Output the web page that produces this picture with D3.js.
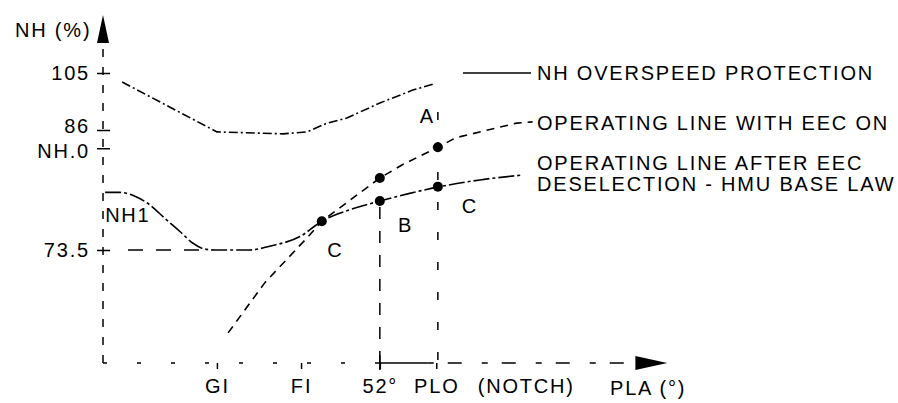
<!DOCTYPE html>
<html>
<head>
    <script src="https://d3js.org/d3.v7.min.js"></script>
    <style>
        body { margin: 0; background: #fff; }
        svg text {
            font-family: "Liberation Sans", Arial, Helvetica, sans-serif;
            font-size: 20px;
            letter-spacing: 1.8px;
            fill: #000;
        }
        .curve { fill: none; stroke: #000; stroke-width: 1.6; }
    </style>
</head>
<body>
<div id="chart"></div>
<script>
    // PLA ticks (deg) and NH ticks (%)
    const xTicks = [21.4, 37.2, 52, 62.6];
    const xTickLabels = ["GI", "FI", "52°", "PLO"];
    const NH0 = 84.1;
    const yTicks = [105, 86, NH0, 73.5];
    const yTickLabels = ["105", "86", "NH.0", "73.5"];

    // NH overspeed protection
    const overspeedX = [3.6, 21.4, 33.8, 38.3, 42.1, 45.8, 52, 58.2, 62];
    const overspeedY = [102, 85.8, 85.6, 85.8, 88.3, 90, 95, 99.3, 101.3];

    // operating line with EEC on
    const eecX = [23.5, 30.4, 38.3, 41.1, 52, 56.3, 62.9, 66.3, 77.7, 80.7];
    const eecY = [63.6, 69.6, 74.75, 76.5, 81.0, 82.4, 84.2, 85.2, 88.3, 88.7];

    // operating line after EEC deselection (HMU base law)
    const hmuX = [0.4, 3.2, 6, 8.8, 11.6, 14.5, 16.9, 19.1, 21, 27.6, 31.3, 37, 41.1, 46.4, 52, 57.6, 63.3, 70.8, 78.7];
    const hmuY = [79.5, 79.5, 79.1, 78.2, 76.8, 75.4, 74.2, 73.6, 73.5, 73.5, 73.9, 74.9, 76.5, 77.7, 78.6, 79.4, 80.1, 80.8, 81.3];

    // marked points
    const dotX = [41.1, 52, 52, 62.9, 62.9];
    const dotY = [76.5, 81.0, 78.6, 84.2, 80.1];

    // point letters
    const letterText = ["A", "B", "C", "C", "NH1"];
    const letterX = [59.5, 55.4, 42.1, 67.4, 0.4];
    const letterY = [88.3, 75.4, 72.65, 77.4, 76.4];

    const legendText = ["NH OVERSPEED PROTECTION", "OPERATING LINE WITH EEC ON", "OPERATING LINE AFTER EEC", "DESELECTION - HMU BASE LAW"];

    const width = 898, height = 403;

    const svg = d3.select("#chart").append("svg")
        .attr("width", width)
        .attr("height", height);

    const x = d3.scaleLinear().domain([0, 105]).range([103, 662]);
    // axis is not to scale, so piecewise
    const y = d3.scaleLinear().domain([60, 73.5, 86, 105]).range([363, 250, 130, 73]);

    const x0 = x(0), yb = y(60);

    // y axis (dashed) + arrow
    svg.append("line")
        .attr("x1", x0).attr("x2", x0)
        .attr("y1", yb).attr("y2", y(105) - 30)
        .attr("stroke", "#000").attr("stroke-width", 1.5)
        .attr("stroke-dasharray", "8,10");
    svg.append("path")
        .attr("d", `M${x0},${y(105) - 58} L${x0 + 6},${y(105) - 30} L${x0 - 6},${y(105) - 30} Z`)
        .attr("fill", "#000");
    svg.append("text")
        .attr("x", 15).attr("y", 37)
        .text("NH (%)");

    const yAxis = svg.append("g")
        .attr("transform", `translate(${x0},0)`)
        .call(d3.axisLeft(y).tickValues(yTicks)
            .tickFormat((d, i) => yTickLabels[i])
            .tickSize(6).tickPadding(7));
    yAxis.select(".domain").remove();
    yAxis.selectAll(".tick line").attr("x1", -6).attr("x2", 7).attr("stroke-width", 1.5);
    yAxis.selectAll(".tick text")
        .attr("font-size", null).attr("font-family", null)
        .attr("y", (d, i) => [0, -4, 3, 0][i]);

    // x axis: dashed / solid / dashed + arrow
    svg.append("line")
        .attr("x1", x0).attr("x2", x(52)).attr("y1", yb).attr("y2", yb)
        .attr("stroke", "#000").attr("stroke-width", 1.5)
        .attr("stroke-dasharray", "4,30");
    svg.append("line")
        .attr("x1", x(52)).attr("x2", x(61)).attr("y1", yb).attr("y2", yb)
        .attr("stroke", "#000").attr("stroke-width", 1.5);
    svg.append("line")
        .attr("x1", x(61)).attr("x2", x(100)).attr("y1", yb).attr("y2", yb)
        .attr("stroke", "#000").attr("stroke-width", 1.5)
        .attr("stroke-dasharray", "6,14,14,20");
    svg.append("path")
        .attr("d", `M${x(106)},${yb} L${x(100)},${yb - 7} L${x(100)},${yb + 7} Z`)
        .attr("fill", "#000");
    svg.append("line")
        .attr("x1", x(52)).attr("x2", x(52)).attr("y1", yb - 8).attr("y2", yb + 7)
        .attr("stroke", "#000").attr("stroke-width", 1.5);

    const xAxis = svg.append("g")
        .attr("transform", `translate(0,${yb})`)
        .call(d3.axisBottom(x).tickValues(xTicks)
            .tickFormat((d, i) => xTickLabels[i])
            .tickSize(6).tickPadding(10));
    xAxis.select(".domain").remove();
    xAxis.selectAll(".tick line").attr("stroke-width", 1.5);
    xAxis.selectAll(".tick text")
        .attr("font-size", null).attr("font-family", null);

    svg.append("text")
        .attr("x", x(79.5)).attr("y", yb + 30)
        .attr("text-anchor", "middle")
        .text("(NOTCH)");
    svg.append("text")
        .attr("x", 610).attr("y", yb + 32)
        .text("PLA (°)");

    // reference dashed lines
    svg.append("line")
        .attr("x1", x(4.7)).attr("x2", x(19.5))
        .attr("y1", y(73.5)).attr("y2", y(73.5))
        .attr("stroke", "#000").attr("stroke-width", 1.5)
        .attr("stroke-dasharray", "15,13");
    svg.append("line")
        .attr("x1", x(52)).attr("x2", x(52))
        .attr("y1", y(78.6) + 6).attr("y2", yb)
        .attr("stroke", "#000").attr("stroke-width", 1.5)
        .attr("stroke-dasharray", "12,12");
    svg.append("line")
        .attr("x1", x(62.9)).attr("x2", x(62.9))
        .attr("y1", y(92)).attr("y2", yb)
        .attr("stroke", "#000").attr("stroke-width", 1.5)
        .attr("stroke-dasharray", "8,22");

    const smooth = d3.line()
        .x(d => x(d[0]))
        .y(d => y(d[1]))
        .curve(d3.curveMonotoneX);
    const straight = d3.line()
        .x(d => x(d[0]))
        .y(d => y(d[1]));

    svg.append("path")
        .datum(overspeedX.map((v, i) => [v, overspeedY[i]]))
        .attr("class", "curve")
        .attr("stroke-dasharray", "9,3,2,3")
        .attr("d", straight);

    svg.append("path")
        .datum(eecX.map((v, i) => [v, eecY[i]]))
        .attr("class", "curve")
        .attr("stroke-dasharray", "8,6")
        .attr("d", straight);

    svg.append("path")
        .datum(hmuX.map((v, i) => [v, hmuY[i]]))
        .attr("class", "curve")
        .attr("stroke-dasharray", "16,3,3,3")
        .attr("d", smooth);

    svg.selectAll(".dot")
        .data(dotX.map((v, i) => [v, dotY[i]]))
        .enter()
        .append("circle")
        .attr("class", "dot")
        .attr("cx", d => x(d[0]))
        .attr("cy", d => y(d[1]))
        .attr("r", 5)
        .attr("fill", "#000");

    svg.selectAll(".letter")
        .data(letterText)
        .enter()
        .append("text")
        .attr("class", "letter")
        .attr("x", (d, i) => x(letterX[i]))
        .attr("y", (d, i) => y(letterY[i]))
        .text(d => d);

    // legend
    svg.append("line")
        .attr("x1", 463).attr("x2", 531).attr("y1", 73).attr("y2", 73)
        .attr("stroke", "#000").attr("stroke-width", 1.5);

    const legendY = [80, 130, 170, 191];
    svg.selectAll(".legend")
        .data(legendText)
        .enter()
        .append("text")
        .attr("class", "legend")
        .attr("x", 537)
        .attr("y", (d, i) => legendY[i])
        .text(d => d);
</script>
</body>
</html>
